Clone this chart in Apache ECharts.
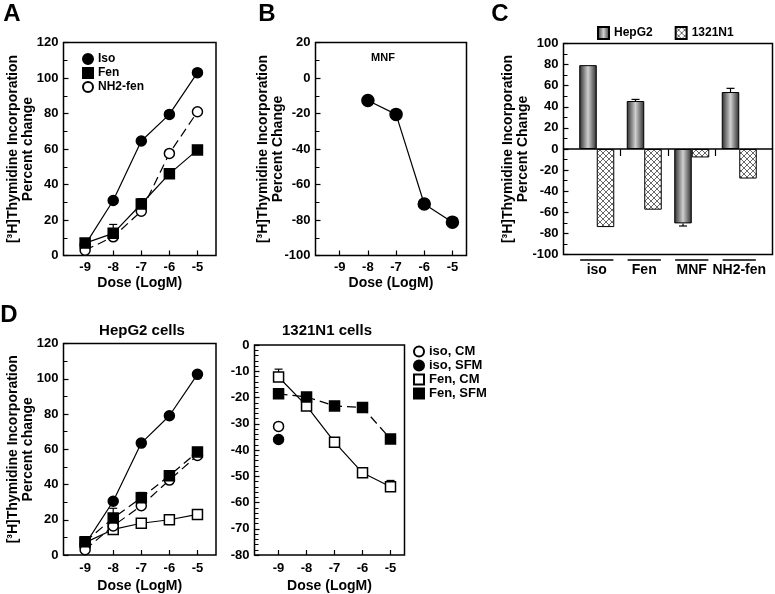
<!DOCTYPE html>
<html>
<head>
<meta charset="utf-8">
<script src="https://cdn.jsdelivr.net/npm/echarts@6/dist/echarts.min.js"></script>
<style>
  html, body { margin: 0; background: #fff; }
  #chart { width: 775px; height: 594px; }
</style>
</head>
<body>
<div id="chart"></div>
<script>
const FONT = '"Liberation Sans", Arial, sans-serif';
const doses = [-9, -8, -7, -6, -5];

// A: HepG2, percent change
const aIso = [6, 31, 64.5, 79.5, 103];
const aFen = [7, 12.5, 29, 46, 59.5];
const aFenErr = [0, 5, 3, 0, 0];
const aNH2 = [3, 10.5, 25, 57.5, 81];

// B: MNF
const bDoses = [-8, -7, -6, -5];
const bMNF = [-12.7, -20.5, -71, -81.2];

// C: bars
const cCats = ['iso', 'Fen', 'MNF', 'NH2-fen'];
const cHep = [79.5, 45.5, -70.5, 54];
const cHepErr = [0, 1.5, 2.5, 3.5];
const c1321 = [-74, -57.5, -8, -28];

// D: HepG2 cells
const dIsoSFM = [6, 30.5, 63.5, 79, 102.5];
const dFenSFM = [7.5, 21, 32.5, 45, 58.5];
const dFenSFMErr = [0, 5.5, 3, 0, 0];
const dIsoCM = [3, 16.5, 28, 42.5, 56.5];
const dFenCM = [7, 14.5, 18, 20, 23];

// D: 1321N1 cells
const eFenCM = [-12.2, -23.2, -37, -48.7, -54];
const eFenCMErr = [3, 0, 0, 0, 2.4];
const eFenSFM = [-18.6, -19.8, -23.2, -23.8, -35.8];
const eIsoDose = [-9];
const eIsoCM = [-31];
const eIsoSFM = [-36];

const cPos = cCats.map((_, i) => i + 1);
const pairs = (xs, ys) => xs.map((x, i) => [x, ys[i]]);
const errs = (xs, ys, es) => xs.map((x, i) => [x, ys[i], es[i]]).filter(d => d[2] > 0);

const chart = echarts.init(document.getElementById('chart'));
const txt = { color: '#000', fontFamily: FONT, fontWeight: 'bold' };
const Y_TITLE = '[³H]Thymidine Incorporation';

function doseAxis(gi, min, max, gap, margin) {
  return {
    type: 'value', gridIndex: gi, min, max,
    name: 'Dose (LogM)', nameLocation: 'middle', nameGap: gap, nameMoveOverlap: false,
    nameTextStyle: { ...txt, fontSize: 14 },
    axisLine: { show: false, onZero: false },
    axisTick: { inside: true, length: 5, customValues: doses, lineStyle: { color: '#000', width: 1.2 } },
    axisLabel: { ...txt, fontSize: 13, margin, customValues: doses },
    splitLine: { show: false }
  };
}

function pctAxis(gi, min, max, interval, minorSplit, name, gap) {
  return {
    type: 'value', gridIndex: gi, min, max, interval,
    name, nameLocation: 'middle', nameGap: gap, nameMoveOverlap: false,
    nameTextStyle: { ...txt, fontSize: 14, lineHeight: 15 },
    axisLine: { show: false, onZero: false },
    axisTick: { inside: true, length: 5, lineStyle: { color: '#000', width: 1.2 } },
    minorTick: { show: true, splitNumber: minorSplit, length: 4, lineStyle: { color: '#000', width: 1 } },
    axisLabel: { ...txt, fontSize: 13, margin: 5 },
    splitLine: { show: false }
  };
}

function lineSeries(name, xi, yi, data, symbol, filled, dashed, size) {
  return {
    type: 'line', name, xAxisIndex: xi, yAxisIndex: yi, data,
    symbol, symbolSize: size || 10, showAllSymbol: true, z: 3,
    itemStyle: { color: filled ? '#000' : '#fff', borderColor: '#000', borderWidth: 1.5 },
    lineStyle: { color: '#000', width: 1.2, type: dashed ? [9, 5] : 'solid' }
  };
}

// upper error bars; "away" makes them point away from zero (bars)
function errSeries(xi, yi, data, dx, away) {
  return {
    type: 'custom', xAxisIndex: xi, yAxisIndex: yi, data, z: away ? 4 : 1, clip: false, silent: true,
    renderItem: (params, api) => {
      const v = api.value(1), e = api.value(2);
      const end = away && v < 0 ? v - e : v + e;
      const p0 = api.coord([api.value(0), v]);
      const p1 = api.coord([api.value(0), end]);
      const x = p0[0] + (dx || 0);
      const st = { stroke: '#000', lineWidth: 1.2 };
      return { type: 'group', children: [
        { type: 'line', shape: { x1: x, y1: p0[1], x2: x, y2: p1[1] }, style: st },
        { type: 'line', shape: { x1: x - 4, y1: p1[1], x2: x + 4, y2: p1[1] }, style: st }
      ]};
    }
  };
}

function hatch() {
  const c = document.createElement('canvas');
  c.width = 6; c.height = 6;
  const g = c.getContext('2d');
  g.fillStyle = '#fff'; g.fillRect(0, 0, 6, 6);
  g.strokeStyle = '#6a6a6a'; g.lineWidth = 1;
  g.beginPath();
  g.moveTo(0, 0); g.lineTo(6, 6);
  g.moveTo(6, 0); g.lineTo(0, 6);
  g.stroke();
  return c;
}

const grids = [
  { left: 63.5, top: 42.5, width: 152.5, height: 213 },    // A
  { left: 315.5, top: 42.5, width: 151, height: 213 },     // B
  { left: 563.5, top: 43.5, width: 209, height: 211 },     // C
  { left: 63.5, top: 343.5, width: 152.5, height: 212.5 }, // D HepG2
  { left: 254.5, top: 345, width: 150, height: 212 }       // D 1321N1
].map(g => ({ ...g, show: true, borderColor: '#000', borderWidth: 1.5 }));

const xAxes = [
  doseAxis(0, -9.77, -4.34, 21, 5),
  doseAxis(1, -9.86, -4.5, 21, 5),
  { // zero line of C with ticks between groups
    type: 'value', gridIndex: 2, min: 0.3, max: 4.7, position: 'top',
    axisLine: { onZero: true, lineStyle: { color: '#000', width: 1.5 } },
    axisTick: { inside: true, length: 7, customValues: [1.5, 2.5, 3.5], lineStyle: { color: '#000', width: 1.2 } },
    axisLabel: { show: false }, splitLine: { show: false }
  },
  { // category labels of C
    type: 'value', gridIndex: 2, min: 0.3, max: 4.7, position: 'bottom',
    axisLine: { show: false, onZero: false }, axisTick: { show: false },
    axisLabel: { ...txt, fontSize: 14, margin: 9, customValues: cPos, formatter: v => cCats[Math.round(v) - 1] },
    splitLine: { show: false }
  },
  doseAxis(3, -9.77, -4.34, 24, 7),
  doseAxis(4, -9.86, -4.5, 24, 7)
];

const yAxes = [
  pctAxis(0, 0, 120, 20, 2, Y_TITLE + '\nPercent change', 28),
  pctAxis(1, -100, 20, 20, 2, Y_TITLE + '\nPercent Change', 30),
  pctAxis(2, -100, 100, 20, 2, Y_TITLE + '\nPercent Change', 33),
  pctAxis(3, 0, 120, 20, 2, Y_TITLE + '\nPercent change', 28),
  pctAxis(4, -80, 0, 10, 5, '', 0)
];

const hepFill = {
  type: 'linear', x: 0, y: 0, x2: 1, y2: 0,
  colorStops: [
    { offset: 0, color: '#2a2a2a' },
    { offset: 0.5, color: '#cfcfcf' },
    { offset: 1, color: '#2a2a2a' }
  ]
};

const series = [
  // A
  lineSeries('Iso', 0, 0, pairs(doses, aIso), 'circle', true, false),
  lineSeries('NH2-fen', 0, 0, pairs(doses, aNH2), 'circle', false, true),
  lineSeries('Fen', 0, 0, pairs(doses, aFen), 'rect', true, false),
  errSeries(0, 0, errs(doses, aFen, aFenErr)),
  // B
  lineSeries('MNF', 1, 1, pairs(bDoses, bMNF), 'circle', true, false, 12),
  // C
  {
    type: 'bar', name: 'HepG2', xAxisIndex: 2, yAxisIndex: 2, data: pairs(cPos, cHep),
    barWidth: 17.5, barGap: '0%', z: 2,
    itemStyle: { color: hepFill, borderColor: '#000', borderWidth: 1 }
  },
  {
    type: 'bar', name: '1321N1', xAxisIndex: 2, yAxisIndex: 2, data: pairs(cPos, c1321),
    barWidth: 17.5, barGap: '0%', z: 2,
    itemStyle: { color: { image: hatch(), repeat: 'repeat' }, borderColor: '#000', borderWidth: 1 }
  },
  errSeries(2, 2, errs(cPos, cHep, cHepErr), -8.75, true),
  {
    type: 'custom', xAxisIndex: 3, yAxisIndex: 2, data: cPos.map(p => [p, -100]),
    clip: false, silent: true, z: 3,
    renderItem: (params, api) => {
      const c = api.coord([api.value(0), api.value(1)]);
      const hw = api.size([0.7, 0])[0] / 2;
      return { type: 'line', shape: { x1: c[0] - hw, y1: c[1] + 5.5, x2: c[0] + hw, y2: c[1] + 5.5 },
               style: { stroke: '#000', lineWidth: 1.5 } };
    }
  },
  // D HepG2
  lineSeries('iso, SFM', 4, 3, pairs(doses, dIsoSFM), 'circle', true, false),
  lineSeries('Fen, CM', 4, 3, pairs(doses, dFenCM), 'rect', false, false),
  lineSeries('iso, CM', 4, 3, pairs(doses, dIsoCM), 'circle', false, true),
  lineSeries('Fen, SFM', 4, 3, pairs(doses, dFenSFM), 'rect', true, true),
  errSeries(4, 3, errs(doses, dFenSFM, dFenSFMErr)),
  // D 1321N1
  lineSeries('Fen, CM', 5, 4, pairs(doses, eFenCM), 'rect', false, false),
  lineSeries('Fen, SFM', 5, 4, pairs(doses, eFenSFM), 'rect', true, true),
  lineSeries('iso, CM', 5, 4, pairs(eIsoDose, eIsoCM), 'circle', false, false),
  lineSeries('iso, SFM', 5, 4, pairs(eIsoDose, eIsoSFM), 'circle', true, false),
  errSeries(5, 4, errs(doses, eFenCM, eFenCMErr))
];

const legendText = { ...txt, fontSize: 12 };
const legends = [
  {
    orient: 'vertical', left: 77, top: 48, itemWidth: 10, itemHeight: 10, itemGap: 2,
    textStyle: legendText, selectedMode: false,
    data: [{ name: 'Iso', icon: 'circle' }, { name: 'Fen', icon: 'rect' }, { name: 'NH2-fen', icon: 'circle' }]
  },
  {
    orient: 'horizontal', left: 592, top: 21, itemWidth: 11, itemHeight: 12, itemGap: 22,
    textStyle: legendText, selectedMode: false,
    data: [{ name: 'HepG2', icon: 'rect' }, { name: '1321N1', icon: 'rect' }]
  },
  {
    orient: 'vertical', left: 408, top: 340, itemWidth: 10, itemHeight: 10, itemGap: 1,
    textStyle: { ...txt, fontSize: 13 }, selectedMode: false,
    data: [
      { name: 'iso, CM', icon: 'circle' }, { name: 'iso, SFM', icon: 'circle' },
      { name: 'Fen, CM', icon: 'rect' }, { name: 'Fen, SFM', icon: 'rect' }
    ]
  }
];

const texts = [
  ['A', 12, 14, 24], ['B', 267, 14, 24], ['C', 500, 14, 24], ['D', 9, 315, 24],
  ['MNF', 383, 58, 11], ['HepG2 cells', 142, 331, 15], ['1321N1 cells', 327, 331, 15]
];

chart.setOption({
  animation: false,
  backgroundColor: '#fff',
  textStyle: { fontFamily: FONT },
  grid: grids,
  xAxis: xAxes,
  yAxis: yAxes,
  legend: legends,
  series,
  graphic: texts.map(([t, x, y, s]) => ({
    type: 'text', x, y, silent: true,
    style: { text: t, fill: '#000', font: `bold ${s}px ${FONT}`, align: 'center', verticalAlign: 'middle' }
  }))
});
</script>
</body>
</html>
